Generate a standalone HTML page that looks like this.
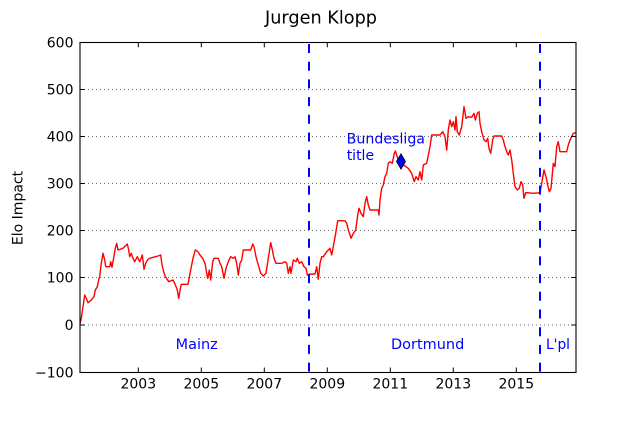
<!DOCTYPE html>
<html><head><meta charset="utf-8"><style>
html,body{margin:0;padding:0;background:#fff;}
svg{display:block;}
text{font-family:"DejaVu Sans","Liberation Sans",sans-serif;}
</style></head><body>
<svg width="640" height="426" viewBox="0 0 640 426" xmlns="http://www.w3.org/2000/svg">
<rect width="640" height="426" fill="#fff"/>
<defs><clipPath id="c"><rect x="80" y="42.3" width="496" height="330"/></clipPath></defs>
<!-- grid -->
<g stroke="#000" stroke-width="0.7" stroke-dasharray="1 3" opacity="0.75">
<line x1="80" y1="89.5" x2="576" y2="89.5"/>
<line x1="80" y1="136.5" x2="576" y2="136.5"/>
<line x1="80" y1="183.5" x2="576" y2="183.5"/>
<line x1="80" y1="230.5" x2="576" y2="230.5"/>
<line x1="80" y1="277.5" x2="576" y2="277.5"/>
<line x1="80" y1="325" x2="576" y2="325"/>
</g>
<!-- red series -->
<polyline clip-path="url(#c)" fill="none" stroke="#ff0000" stroke-width="1.4" stroke-linejoin="round" points="
79.7,325 81.3,318.3 83,306.7 84.7,295 86.3,298.3 88,302.7 91.3,300 94,296.7 95.3,290 97.3,286.7 98.7,280 99.7,276.7 101.3,263.3 103,253.3 104.7,260 105.7,266.7 109.7,266.7 110.7,261.7 112,267.3 113.3,260 115.3,248.3 116.7,243.3 118,250 123,248.3 127.3,244 128.7,250 129.7,256.7 131.3,253.3 133,258.3 134.7,261.7 137.3,256.7 139.7,261.7 142.3,255 144,269.3 145.7,263.3 148,259.3 149.7,258.3 158,256 160.7,255 162,265 163.7,271.7 165.3,276.7 168.7,281.7 173,280 174.7,283.3 177.3,290 178.7,298.3 180.7,286.7 181.3,284.3 188,284.3 190.7,270 193,258.3 195.3,250 198,251.7 200,255 202.7,258.3 205,263.3 206.7,273.3 207.7,278.3 209.3,270 210.7,280 212.7,261.7 214,258.3 218.3,258.3 220,263.3 221.7,266.7 224,278.3 226,268.3 228.3,261.7 230.7,256.7 233.3,258.3 235,256.7 236.7,263.3 238.3,275 240,263.3 241.7,260 243.3,250 250.7,250 252.7,244 254,246.7 256,256.7 258.3,265 260.7,273.3 263.3,276 266,273.3 268.3,258.3 270.7,242.7 272,248.3 274,258.3 276,263.3 281.7,263.3 285,261.7 286.7,263.3 288.3,273.3 290,266.7 291,273.3 293.3,260 296,261.7 297.3,258.3 299.3,263.3 301.7,261.7 304,266.7 306,268.3 307.3,275 310,274 315,274 316.7,266.7 318.3,279.3 320,263.3 321.7,256.7 323.3,256.7 326.7,251.7 330,248.3 331.7,255 333.3,246.7 335.7,233.3 337.7,220.7 345,220.7 346.7,223.3 348.3,230 350,235 351,238.3 353.3,233.3 355.7,230 357.7,215 359,208.3 361,213.3 363.3,216.7 365,203.3 366.7,196.7 368.3,205 370,210 378.3,210 379,215 380,200 381.7,188.3 383.3,185 385,176.7 386.7,173.3 388.3,163.3 390,161.7 392.3,163.3 394.3,153.3 395.3,151 398.3,160 401,161.7 403.3,165 408.3,168.3 411.7,173.3 414.3,181.7 416,176.7 418.3,180 420,171.7 421.7,180 423.3,165 426.7,163.3 430,146.7 431.7,135 440,135 442.7,131.7 445,136.7 446.7,150 448.3,130 450,120 451.7,126.7 453.3,121.7 455,130 456,116.7 457.3,131.7 459.3,135 461.7,126.7 464,106.7 466,118.3 468.3,116.7 471.7,117.3 474,113.3 475.3,120 477.3,113.3 479,111.7 480,123.3 481.7,131.7 484,140 486,141.7 487.7,138.3 489,148.3 490.7,153.3 492.7,140 494,136 501.7,136 503.3,140 505,146.7 506.7,151.7 508.3,155 510,150 511.7,160 513.3,173.3 515,186.7 517.3,190 519.3,188.3 521,181.7 522.7,185 524,198.3 525.7,192.7 527.3,192.7 533.3,193.3 540,192.7 541.7,183.3 544,170 546,176.7 547.7,185 549.3,191.7 551,188.3 553.3,163.3 555,166.7 556.7,146.7 558.3,141.7 560,151.7 566.7,151.7 568.3,145 570,140 571.7,136.7 573.3,133.3 576,132.7"/>
<!-- vertical dashed lines -->
<g stroke="#0000ff" stroke-width="2" stroke-dasharray="9 8.7">
<line x1="309" y1="44" x2="309" y2="372.3"/>
<line x1="540" y1="44" x2="540" y2="372.3"/>
</g>
<!-- marker -->
<polygon points="401,153.8 405.5,161.5 401,169.2 396.5,161.5" fill="#0000ff" stroke="#000" stroke-width="0.8"/>
<!-- spines -->
<rect x="80" y="42.5" width="496" height="330" fill="none" stroke="#000" stroke-width="1.1"/>
<!-- ticks -->
<g stroke="#000" stroke-width="1">
<line x1="138.3" y1="372.3" x2="138.3" y2="367.5"/><line x1="138.3" y1="42.5" x2="138.3" y2="47.3"/>
<line x1="201.3" y1="372.3" x2="201.3" y2="367.5"/><line x1="201.3" y1="42.5" x2="201.3" y2="47.3"/>
<line x1="264.3" y1="372.3" x2="264.3" y2="367.5"/><line x1="264.3" y1="42.5" x2="264.3" y2="47.3"/>
<line x1="327.3" y1="372.3" x2="327.3" y2="367.5"/><line x1="327.3" y1="42.5" x2="327.3" y2="47.3"/>
<line x1="390.3" y1="372.3" x2="390.3" y2="367.5"/><line x1="390.3" y1="42.5" x2="390.3" y2="47.3"/>
<line x1="453.3" y1="372.3" x2="453.3" y2="367.5"/><line x1="453.3" y1="42.5" x2="453.3" y2="47.3"/>
<line x1="516.3" y1="372.3" x2="516.3" y2="367.5"/><line x1="516.3" y1="42.5" x2="516.3" y2="47.3"/>
<line x1="80" y1="89.5" x2="84.8" y2="89.5"/><line x1="576" y1="89.5" x2="571.2" y2="89.5"/>
<line x1="80" y1="136.5" x2="84.8" y2="136.5"/><line x1="576" y1="136.5" x2="571.2" y2="136.5"/>
<line x1="80" y1="183.5" x2="84.8" y2="183.5"/><line x1="576" y1="183.5" x2="571.2" y2="183.5"/>
<line x1="80" y1="230.5" x2="84.8" y2="230.5"/><line x1="576" y1="230.5" x2="571.2" y2="230.5"/>
<line x1="80" y1="277.5" x2="84.8" y2="277.5"/><line x1="576" y1="277.5" x2="571.2" y2="277.5"/>
<line x1="80" y1="325" x2="84.8" y2="325"/><line x1="576" y1="325" x2="571.2" y2="325"/>
</g>
<!-- y tick labels -->
<g font-size="14" fill="#000" text-anchor="end">
<text x="73.5" y="47.4">600</text>
<text x="73.5" y="94.5">500</text>
<text x="73.5" y="141.5">400</text>
<text x="73.5" y="188.5">300</text>
<text x="73.5" y="235.5">200</text>
<text x="73.5" y="282.5">100</text>
<text x="73.5" y="330">0</text>
<text x="73.5" y="377.3">−100</text>
</g>
<!-- x tick labels -->
<g font-size="14" fill="#000" text-anchor="middle">
<text x="138.3" y="388.5">2003</text>
<text x="201.3" y="388.5">2005</text>
<text x="264.3" y="388.5">2007</text>
<text x="327.3" y="388.5">2009</text>
<text x="390.3" y="388.5">2011</text>
<text x="453.3" y="388.5">2013</text>
<text x="516.3" y="388.5">2015</text>
</g>
<!-- y label -->
<text x="0" y="0" font-size="14" fill="#000" text-anchor="middle" transform="translate(22.5,208) rotate(-90)">Elo Impact</text>
<!-- title -->
<text x="265" y="23.3" font-size="17.6" fill="#000" textLength="112" lengthAdjust="spacingAndGlyphs">Jurgen Klopp</text>
<!-- annotations -->
<g font-size="14" fill="#0000ff">
<text x="175.7" y="349" textLength="42" lengthAdjust="spacingAndGlyphs">Mainz</text>
<text x="391" y="349" textLength="73.3" lengthAdjust="spacingAndGlyphs">Dortmund</text>
<text x="546" y="349" textLength="24" lengthAdjust="spacingAndGlyphs">L'pl</text>
<text x="346.7" y="143.3" textLength="78.3" lengthAdjust="spacingAndGlyphs">Bundesliga</text>
<text x="346.7" y="160">title</text>
</g>
</svg>
</body></html>
